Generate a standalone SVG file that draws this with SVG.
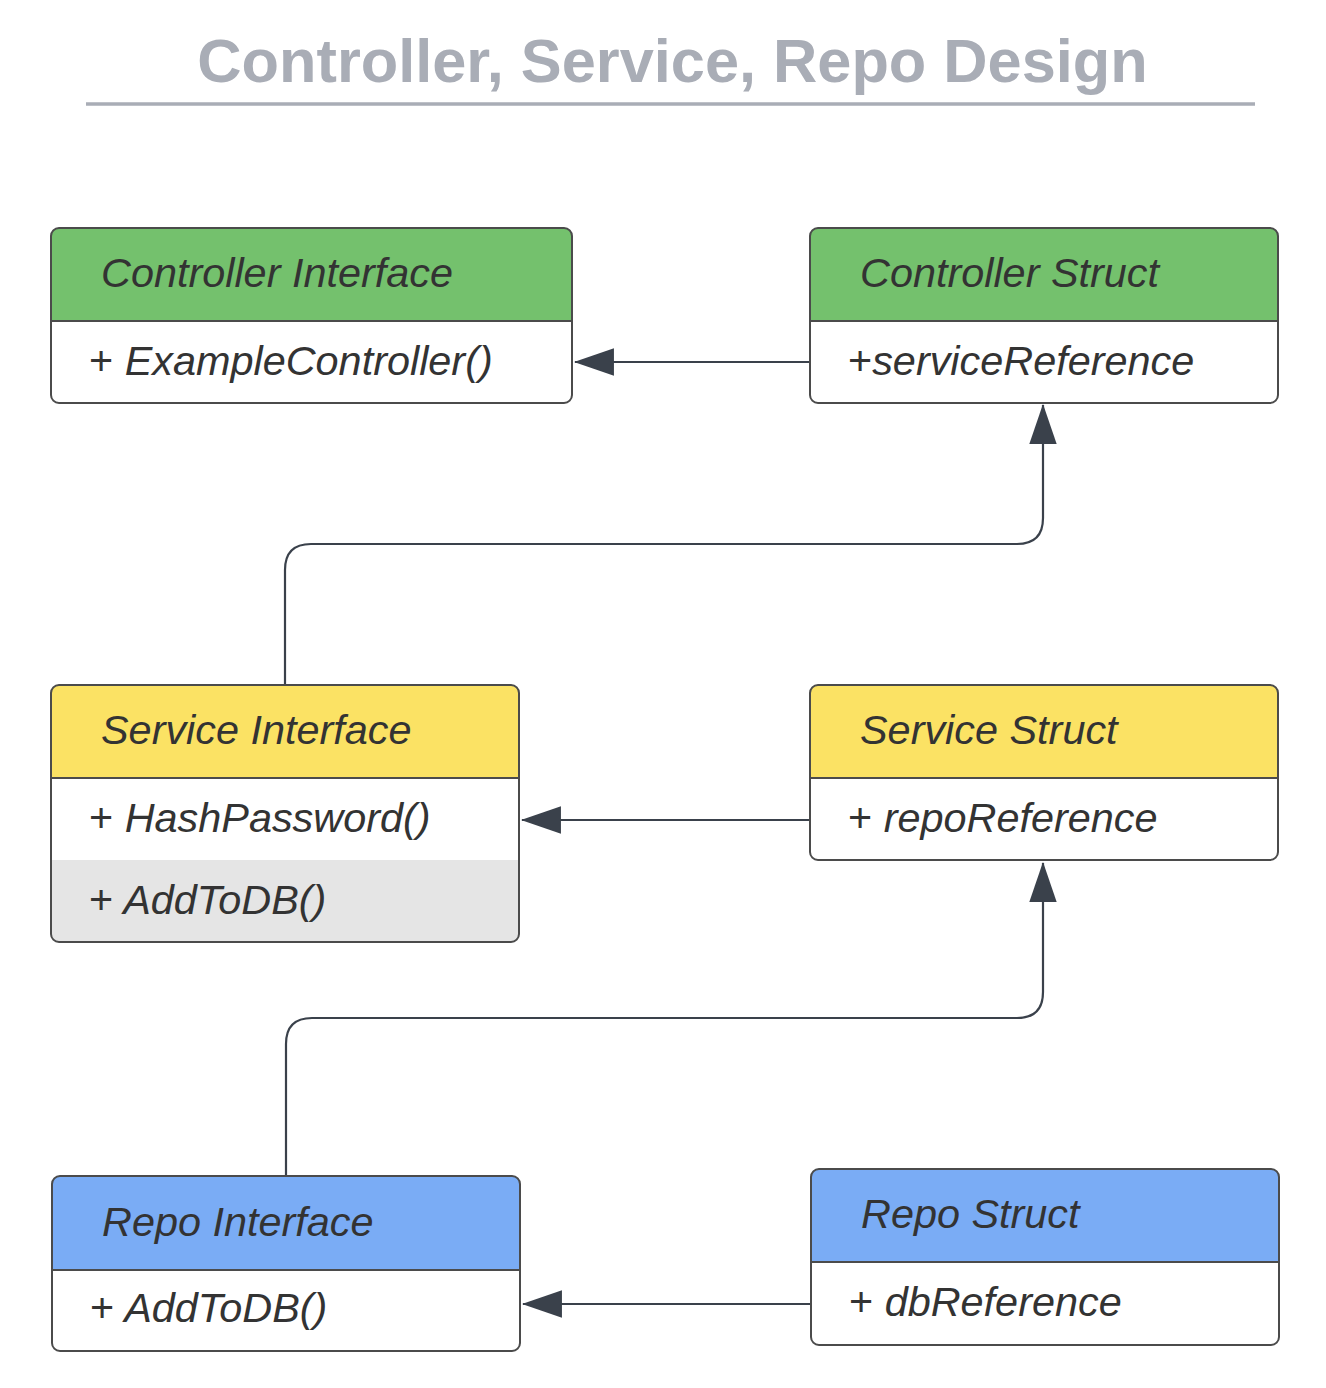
<svg xmlns="http://www.w3.org/2000/svg" width="1326" height="1388" viewBox="0 0 1326 1388">
<style>
.title{font-family:"Liberation Sans",Arial,sans-serif;font-weight:bold;font-size:61.3px;fill:#a9adb6}
.hd{font-family:"Liberation Sans",Arial,sans-serif;font-style:italic;font-size:41.4px;fill:#333333}
.bd{font-family:"Liberation Sans",Arial,sans-serif;font-style:italic;font-size:41.4px;fill:#333333}
.plus{font-style:normal}
.frame{fill:none;stroke:#4b4b4b;stroke-width:2}
.sep{stroke:#4b4b4b;stroke-width:2}
.green{fill:#74c16d}
.yellow{fill:#fbe264}
.blue{fill:#7aacf5}
.conn{fill:none;stroke:#3a414b;stroke-width:2.2}
</style>
<defs>
<marker id="arrow" markerUnits="userSpaceOnUse" markerWidth="40" markerHeight="28" viewBox="0 0 38 26" refX="37" refY="13" orient="auto">
<path d="M0,0 L38,13 L0,26 Z" fill="#3a414b"/>
</marker>
</defs>
<rect width="1326" height="1388" fill="#ffffff"/>
<text class="title" x="672.5" y="82" text-anchor="middle">Controller, Service, Repo Design</text>
<line x1="86" y1="104" x2="1255" y2="104" stroke="#a9adb6" stroke-width="3.5"/>

<g id="connectors">
<path class="conn" d="M810,362 L575,362" marker-end="url(#arrow)"/>
<path class="conn" d="M285,685 L285,570 Q285,544 311,544 L1017,544 Q1043,544 1043,518 L1043,405" marker-end="url(#arrow)"/>
<path class="conn" d="M810,820 L522,820" marker-end="url(#arrow)"/>
<path class="conn" d="M286,1176 L286,1044 Q286,1018 312,1018 L1017,1018 Q1043,1018 1043,992 L1043,863" marker-end="url(#arrow)"/>
<path class="conn" d="M811,1304 L523,1304" marker-end="url(#arrow)"/>
</g>

<g id="controller-interface">
<rect x="51" y="228" width="521" height="175" rx="8" fill="#ffffff"/>
<path class="green" d="M51,321 L51,236 Q51,228 59,228 L564,228 Q572,228 572,236 L572,321 Z"/>
<line class="sep" x1="51" y1="321" x2="572" y2="321"/>
<rect class="frame" x="51" y="228" width="521" height="175" rx="8"/>
<text class="hd" x="101" y="287">Controller Interface</text>
<text class="bd" x="89" y="375"><tspan class="plus">+</tspan> ExampleController()</text>
</g>

<g id="controller-struct">
<rect x="810" y="228" width="468" height="175" rx="8" fill="#ffffff"/>
<path class="green" d="M810,321 L810,236 Q810,228 818,228 L1270,228 Q1278,228 1278,236 L1278,321 Z"/>
<line class="sep" x1="810" y1="321" x2="1278" y2="321"/>
<rect class="frame" x="810" y="228" width="468" height="175" rx="8"/>
<text class="hd" x="860" y="287">Controller Struct</text>
<text class="bd" x="848" y="375"><tspan class="plus">+</tspan>serviceReference</text>
</g>

<g id="service-interface">
<rect x="51" y="685" width="468" height="257" rx="8" fill="#ffffff"/>
<path class="yellow" d="M51,778 L51,693 Q51,685 59,685 L511,685 Q519,685 519,693 L519,778 Z"/>
<path d="M51,860 L519,860 L519,934 Q519,942 511,942 L59,942 Q51,942 51,934 Z" fill="#e5e5e5"/>
<line class="sep" x1="51" y1="778" x2="519" y2="778"/>
<rect class="frame" x="51" y="685" width="468" height="257" rx="8"/>
<text class="hd" x="101" y="744">Service Interface</text>
<text class="bd" x="89" y="832"><tspan class="plus">+</tspan> HashPassword()</text>
<text class="bd" x="89" y="914"><tspan class="plus">+</tspan> AddToDB()</text>
</g>

<g id="service-struct">
<rect x="810" y="685" width="468" height="175" rx="8" fill="#ffffff"/>
<path class="yellow" d="M810,778 L810,693 Q810,685 818,685 L1270,685 Q1278,685 1278,693 L1278,778 Z"/>
<line class="sep" x1="810" y1="778" x2="1278" y2="778"/>
<rect class="frame" x="810" y="685" width="468" height="175" rx="8"/>
<text class="hd" x="860" y="744">Service Struct</text>
<text class="bd" x="848" y="832"><tspan class="plus">+</tspan> repoReference</text>
</g>

<g id="repo-interface">
<rect x="52" y="1176" width="468" height="175" rx="8" fill="#ffffff"/>
<path class="blue" d="M52,1270 L52,1184 Q52,1176 60,1176 L512,1176 Q520,1176 520,1184 L520,1270 Z"/>
<line class="sep" x1="52" y1="1270" x2="520" y2="1270"/>
<rect class="frame" x="52" y="1176" width="468" height="175" rx="8"/>
<text class="hd" x="102" y="1236">Repo Interface</text>
<text class="bd" x="90" y="1322"><tspan class="plus">+</tspan> AddToDB()</text>
</g>

<g id="repo-struct">
<rect x="811" y="1169" width="468" height="176" rx="8" fill="#ffffff"/>
<path class="blue" d="M811,1262 L811,1177 Q811,1169 819,1169 L1271,1169 Q1279,1169 1279,1177 L1279,1262 Z"/>
<line class="sep" x1="811" y1="1262" x2="1279" y2="1262"/>
<rect class="frame" x="811" y="1169" width="468" height="176" rx="8"/>
<text class="hd" x="861" y="1228">Repo Struct</text>
<text class="bd" x="849" y="1316"><tspan class="plus">+</tspan> dbReference</text>
</g>
</svg>
